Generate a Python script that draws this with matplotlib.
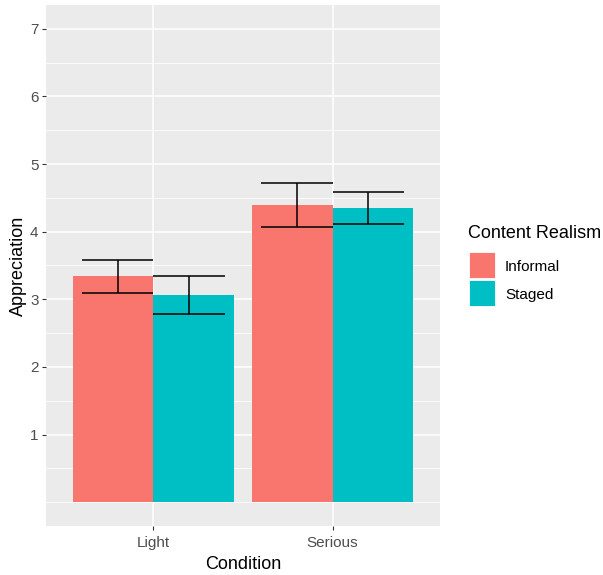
import matplotlib
matplotlib.use("Agg")
import matplotlib.pyplot as plt
from matplotlib.patches import Rectangle
import numpy as np

plt.rcParams['font.family'] = ['Liberation Sans', 'DejaVu Sans']

# Data
conditions = ["Light", "Serious"]
groups = ["Informal", "Staged"]
means_informal = [3.34, 4.40]
means_staged = [3.07, 4.35]
se_informal = [0.24, 0.325]
se_staged = [0.28, 0.24]
y_breaks = [1, 2, 3, 4, 5, 6, 7]

colors = {"Informal": "#F8766D", "Staged": "#00BFC4"}

W, H = 603, 575
fig = plt.figure(figsize=(W / 100, H / 100), dpi=100)
fig.patch.set_facecolor("white")

# panel position in pixels
px_l, px_r, px_t, px_b = 46, 440, 5, 526
ax = fig.add_axes([px_l / W, 1 - px_b / H, (px_r - px_l) / W, (px_b - px_t) / H])
ax.set_facecolor("#EBEBEB")

x = np.arange(1, len(conditions) + 1)
bar_w = 0.45
err_off = 0.2
err_half = 0.2

series = [("Informal", means_informal, se_informal, -1),
          ("Staged", means_staged, se_staged, 1)]

for name, m, se, sgn in series:
    ax.bar(x + sgn * bar_w / 2, m, width=bar_w, color=colors[name],
           edgecolor="none", zorder=3)

for name, m, se, sgn in series:
    xc = x + sgn * err_off
    lo = np.array(m) - np.array(se)
    hi = np.array(m) + np.array(se)
    ax.vlines(xc, lo, hi, color="black", lw=1.1, zorder=4)
    ax.hlines(lo, xc - err_half, xc + err_half, color="black", lw=1.1, zorder=4)
    ax.hlines(hi, xc - err_half, xc + err_half, color="black", lw=1.1, zorder=4)

ax.set_xlim(0.4, 2.6)
ax.set_ylim(-0.35, 7.35)

ax.set_xticks(x)
ax.set_xticklabels(conditions)
ax.set_yticks(y_breaks)
ax.set_yticklabels([str(v) for v in y_breaks])
ax.set_yticks([0, 0.5, 1.5, 2.5, 3.5, 4.5, 5.5, 6.5], minor=True)

ax.grid(which="major", color="white", lw=1.1, zorder=1)
ax.grid(which="minor", axis="y", color="white", lw=0.55, zorder=1)
ax.set_axisbelow(True)

for s in ax.spines.values():
    s.set_visible(False)

ax.tick_params(axis="both", which="major", length=2.9, width=0.8,
               color="#333333", labelcolor="#4D4D4D", labelsize=11, pad=2.5)
ax.tick_params(axis="x", which="major", pad=4.5)
ax.tick_params(axis="both", which="minor", length=0)

ax.set_xlabel("Condition", fontsize=13, color="black", labelpad=3.8)
ax.set_ylabel("Appreciation", fontsize=13, color="black", labelpad=2.3)

# Legend
fig.text(468 / W, 1 - 234 / H, "Content Realism", fontsize=13,
         ha="left", va="center", color="black")
key_x0, key_w = 469, 26
keys = [("Informal", 252), ("Staged", 280)]
for name, ky in keys:
    fig.add_artist(Rectangle((key_x0 / W, 1 - (ky + key_w) / H), key_w / W, key_w / H,
                             transform=fig.transFigure, facecolor=colors[name],
                             edgecolor="white", lw=0.6))
    fig.text(505 / W, 1 - (ky + key_w / 2 + 2) / H, name, fontsize=11,
             ha="left", va="center", color="black")

fig.savefig("out.png", dpi=100)
